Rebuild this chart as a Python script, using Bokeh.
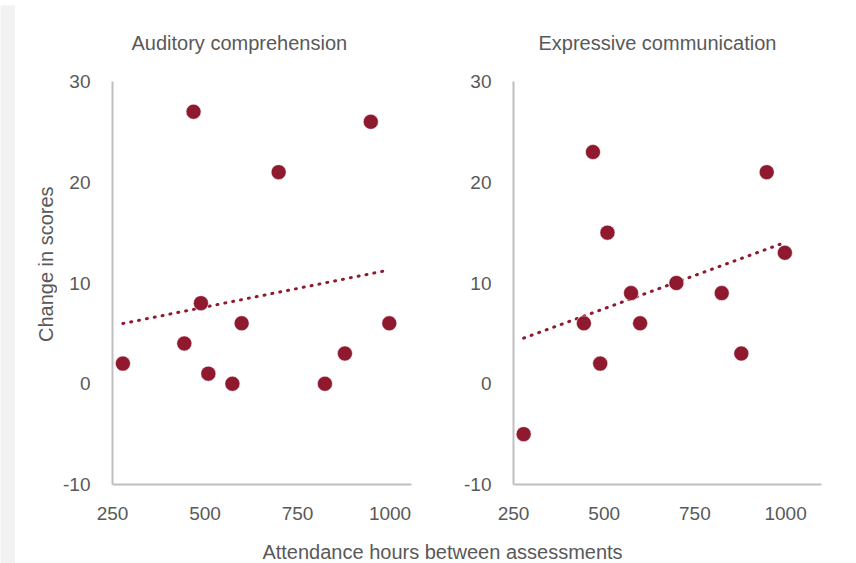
import numpy as np
from bokeh.plotting import figure
from bokeh.layouts import row, column
from bokeh.models import Label, Range1d
from bokeh.embed import file_html
from bokeh.resources import INLINE

# ---- data ----
hours = [278, 444, 469, 489, 509, 574, 599, 699, 824, 878, 948, 998]
auditory = [2, 4, 27, 8, 1, 0, 6, 21, 0, 3, 26, 6]
expressive = [-5, 6, 23, 2, 15, 9, 6, 10, 9, 3, 21, 13]
x_ticks = [250, 500, 750, 1000]
y_ticks = [-10, 0, 10, 20, 30]
y_tick_labels = {-10: "-10", 0: "0", 10: "10", 20: "20", 30: "30"}
titles = ["Auditory comprehension", "Expressive communication"]
y_label = "Change in scores"
x_label = "Attendance hours between assessments"

FONT = "Liberation Sans"
TXT = "#595959"
AX = "#bfbfbf"
DOT = "#8f1a2f"
GREY_BG = "#f2f2f2"


def blank(width, height, fill="white"):
    f = figure(width=width, height=height, min_border=0, title=None,
               x_range=Range1d(0, width), y_range=Range1d(0, height),
               x_axis_location=None, y_axis_location=None,
               output_backend="svg", toolbar_location=None)
    f.outline_line_color = None
    f.xgrid.visible = False
    f.ygrid.visible = False
    f.background_fill_color = fill
    f.border_fill_color = fill
    return f


def panel(title, ys, xmax, mbl, fw, title_offset):
    p = figure(frame_width=fw, frame_height=403,
               min_border_left=mbl, min_border_right=27,
               min_border_top=75, min_border_bottom=50,
               x_range=Range1d(250, xmax), y_range=Range1d(-10, 30),
               output_backend="svg", toolbar_location=None)
    p.outline_line_color = None
    p.xgrid.visible = False
    p.ygrid.visible = False
    p.background_fill_color = "white"
    p.border_fill_color = "white"

    p.title.text = title
    p.title.text_font = FONT
    p.title.text_font_size = "20px"
    p.title.text_font_style = "normal"
    p.title.text_color = TXT
    p.title.align = "left"
    p.title.vertical_align = "top"
    p.title.offset = title_offset
    p.title.standoff = 52

    for ax in (p.xaxis[0], p.yaxis[0]):
        ax.axis_line_color = AX
        ax.axis_line_width = 2
        ax.major_tick_line_color = None
        ax.minor_tick_line_color = None
        ax.major_label_text_font = FONT
        ax.major_label_text_font_size = "19px"
        ax.major_label_text_color = TXT
    p.xaxis.ticker = x_ticks
    p.yaxis.ticker = y_ticks
    p.yaxis.major_label_overrides = y_tick_labels
    p.xaxis.major_label_standoff = 16
    p.yaxis.major_label_standoff = 16

    coef = np.polyfit(hours, ys, 1)
    xs = [min(hours), max(hours)]
    p.line(xs, np.polyval(coef, xs), line_color=DOT, line_width=3,
           line_dash="1 7", line_cap="round")
    p.scatter(hours, ys, size=15, color=DOT, line_color="white", line_width=0.5)
    return p


ROW_H = 75 + 403 + 50
BOTTOM_H = 30
left = panel(titles[0], auditory, 1058, 55, 299, 19)
right = panel(titles[1], expressive, 1099, 75, 308, 25)

yfig = blank(42, ROW_H)
yfig.add_layout(Label(x=30, y=ROW_H - 240, text=y_label, angle=np.pi / 2,
                      text_font=FONT, text_font_size="20px", text_color=TXT,
                      text_align="center", text_baseline="middle"))

bottom = blank(833, BOTTOM_H)
bottom.add_layout(Label(x=427, y=13, text=x_label, text_font=FONT, text_font_size="20px",
                        text_color=TXT, text_align="center", text_baseline="alphabetic"))

top_strip = blank(848, 5, fill=GREY_BG)
left_strip = blank(15, ROW_H + BOTTOM_H, fill=GREY_BG)

layout = column(top_strip,
                row(left_strip, column(row(yfig, left, right), bottom)))
open("out.html", "w").write(file_html(layout, INLINE))
